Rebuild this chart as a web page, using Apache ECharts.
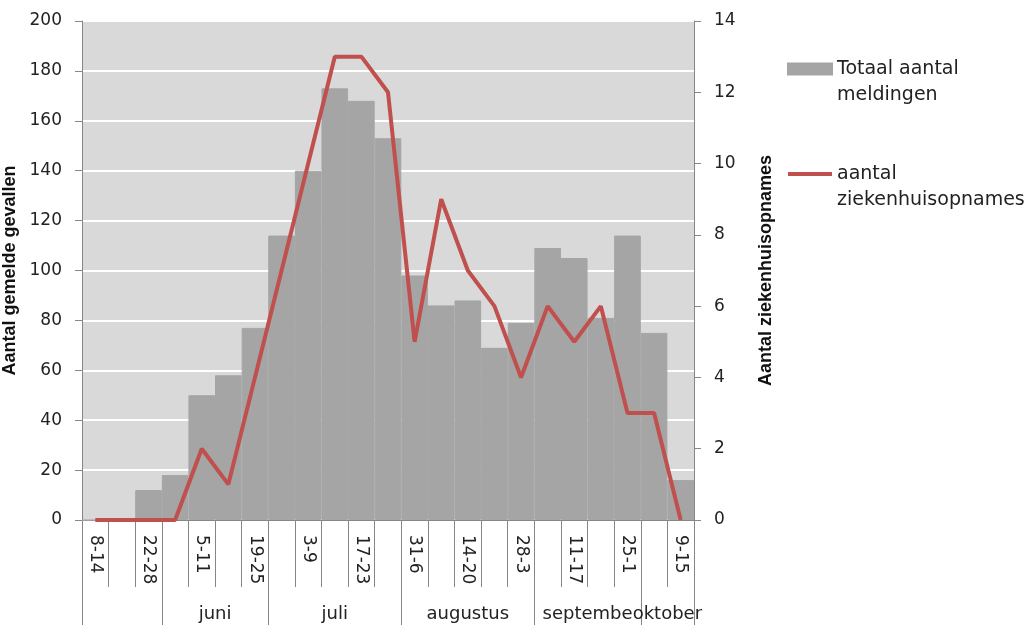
<!DOCTYPE html>
<html>
<head>
<meta charset="utf-8">
<script src="https://cdn.jsdelivr.net/npm/echarts@6/dist/echarts.min.js"></script>
<style>
  html, body { margin: 0; padding: 0; background: #fff; }
  #chart { width: 1025px; height: 625px; }
</style>
</head>
<body>
<div id="chart"></div>
<script>
// weekly categories
const weeks = ['8-14', '15-21', '22-28', '29-4', '5-11', '12-18', '19-25', '26-2', '3-9', '10-16', '17-23', '24-30',
  '31-6', '7-13', '14-20', '21-27', '28-3', '4-10', '11-17', '18-24', '25-1', '2-8', '9-15']
// totaal aantal meldingen (left axis)
const meldingen = [0, 0, 12, 18, 50, 58, 77, 114, 140, 173, 168, 153, 98, 86, 88, 69, 79, 109, 105, 81, 114, 75, 16]
// aantal ziekenhuisopnames (right axis)
const opnames = [0, 0, 0, 0, 2, 1, 4, 7, 10, 13, 13, 12, 5, 9, 7, 6, 4, 6, 5, 6, 3, 3, 0]
// month groups under the weeks
const months = ['', 'juni', 'juli', 'augustus', 'september', 'oktober']
const monthWeeks = [3, 4, 5, 5, 4, 2]

const leftTicks = { min: 0, max: 200, interval: 20 }
const rightTicks = { min: 0, max: 14, interval: 2 }

// boundaries and centres of the month groups, in week units
const monthEdges = [0]
monthWeeks.forEach(n => monthEdges.push(monthEdges[monthEdges.length - 1] + n))
const monthCenters = monthWeeks.map((n, i) => monthEdges[i] + n / 2)

const axisGray = '#868686'
const textColor = '#222'
const font = 'DejaVu Sans'
const barColor = '#a5a5a5'
const lineColor = '#c0504d'

const myChart = echarts.init(document.getElementById('chart'))

const option = {
  animation: false,
  grid: {
    left: 82, width: 612, top: 21, height: 499,
    show: true,
    backgroundColor: '#d9d9d9',
    borderWidth: 0,
    containLabel: false,
    outerBoundsMode: 'none'
  },
  legend: {
    orient: 'vertical',
    left: 782,
    top: 25,
    itemWidth: 44,
    itemHeight: 11,
    itemGap: 27,
    // leading empty line puts the first text line level with the icon
    formatter: name => '\n' + name,
    textStyle: {
      fontFamily: font,
      fontSize: 19,
      color: textColor,
      lineHeight: 26
    },
    data: [
      { name: 'Totaal aantal\nmeldingen', icon: 'rect' },
      { name: 'aantal\nziekenhuisopnames', icon: 'path://M0,0L46,0L46,4L0,4Z' }
    ]
  },
  xAxis: [
    {
      type: 'category',
      data: weeks,
      boundaryGap: true,
      axisLine: { show: true, lineStyle: { color: axisGray, width: 1 } },
      axisTick: { show: true, interval: 0, length: 67, lineStyle: { color: axisGray } },
      axisLabel: {
        interval: 1,
        rotate: -90,
        margin: 15,
        fontFamily: font,
        fontSize: 17,
        color: textColor
      }
    },
    {
      type: 'value',
      position: 'bottom',
      offset: 0,
      min: 0,
      max: weeks.length,
      axisLine: { show: false },
      splitLine: { show: false },
      axisTick: {
        show: true,
        length: 110,
        customValues: monthEdges,
        lineStyle: { color: axisGray }
      },
      axisLabel: {
        customValues: monthCenters,
        margin: 85,
        fontFamily: font,
        fontSize: 18,
        color: textColor,
        hideOverlap: false,
        width: 96,
        overflow: 'truncate',
        ellipsis: '',
        formatter: v => months[monthCenters.indexOf(v)] || ''
      }
    }
  ],
  yAxis: [
    {
      type: 'value',
      min: leftTicks.min,
      max: leftTicks.max,
      interval: leftTicks.interval,
      name: 'Aantal gemelde gevallen',
      nameLocation: 'middle',
      nameRotate: 90,
      nameGap: 52,
      nameTextStyle: { fontFamily: 'Liberation Sans', fontWeight: 'bold', fontSize: 18, color: '#111' },
      axisLine: { show: true, lineStyle: { color: axisGray } },
      axisTick: { show: true, length: 7, lineStyle: { color: axisGray } },
      axisLabel: { margin: 20, fontFamily: font, fontSize: 17, color: textColor },
      splitLine: { show: true, lineStyle: { color: '#ffffff', width: 2 } }
    },
    {
      type: 'value',
      min: rightTicks.min,
      max: rightTicks.max,
      interval: rightTicks.interval,
      position: 'right',
      name: 'Aantal ziekenhuisopnames',
      nameLocation: 'middle',
      nameRotate: 90,
      nameGap: 63,
      nameTextStyle: { fontFamily: 'Liberation Sans', fontWeight: 'bold', fontSize: 18, color: '#111' },
      axisLine: { show: true, lineStyle: { color: axisGray } },
      axisTick: { show: true, length: 7, lineStyle: { color: axisGray } },
      axisLabel: { margin: 20, fontFamily: font, fontSize: 17, color: textColor },
      splitLine: { show: false }
    }
  ],
  series: [
    {
      name: 'Totaal aantal\nmeldingen',
      type: 'bar',
      xAxisIndex: 0,
      yAxisIndex: 0,
      barCategoryGap: '0%',
      itemStyle: { color: barColor, borderColor: barColor, borderWidth: 1 },
      data: meldingen
    },
    {
      name: 'aantal\nziekenhuisopnames',
      type: 'line',
      xAxisIndex: 0,
      yAxisIndex: 1,
      symbol: 'none',
      lineStyle: { color: lineColor, width: 4 },
      itemStyle: { color: lineColor },
      z: 5,
      data: opnames
    }
  ]
}

myChart.setOption(option)
</script>
</body>
</html>
